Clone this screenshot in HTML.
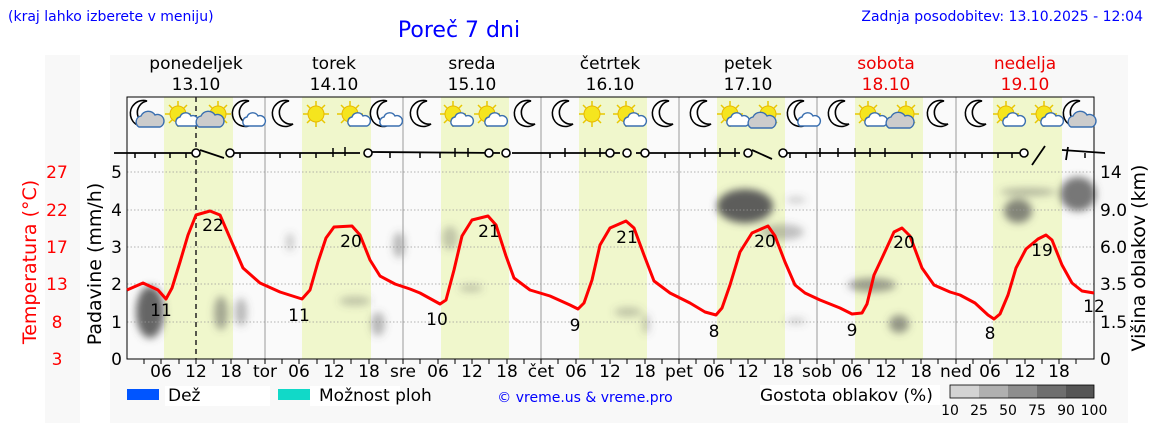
<!DOCTYPE html>
<html><head><meta charset="utf-8"><style>
body{margin:0;background:#fff;width:1152px;height:443px;overflow:hidden;font-family:"Liberation Sans","DejaVu Sans",sans-serif}
</style></head><body>
<svg width="1152" height="443" xmlns="http://www.w3.org/2000/svg" font-family="DejaVu Sans, Liberation Sans, sans-serif">
<defs>
<filter id="bl" x="-20%" y="-20%" width="140%" height="140%"><feGaussianBlur stdDeviation="4"/></filter>
<g id="moon"><path d="M4,-13 A13,13 0 1 0 8,10 A11,11 0 0 1 4,-13 Z" fill="#fff" stroke="#000" stroke-width="1.6"/></g>
<g id="sun"><g stroke="#e8c800" stroke-width="1.5"><line x1="-13" y1="0" x2="13" y2="0"/><line x1="0" y1="-13" x2="0" y2="13"/><line x1="-9" y1="-9" x2="9" y2="9"/><line x1="-9" y1="9" x2="9" y2="-9"/></g><circle r="8" fill="#f5e51e" stroke="#e8b800"/></g>
<g id="cl"><path d="M-8,6 a5,5 0 0 1 2,-9 a6,6 0 0 1 11,-1 a5,5 0 0 1 4,10 z" fill="#fff" stroke="#3a6fb0" stroke-width="1.4"/></g>
<g id="clg"><path d="M-11,8 a6,6 0 0 1 2,-11 a8,8 0 0 1 14,-1 a6,6 0 0 1 5,12 z" fill="#ccc" stroke="#3a6fb0" stroke-width="1.4"/></g>
</defs>
<rect x="45" y="55" width="35" height="368" fill="#f8f8f8"/>
<rect x="110" y="55" width="1018" height="368" fill="#f8f8f8"/>
<rect x="127" y="97" width="967" height="262" fill="#fafafa"/>
<g fill="#f0f7cc">
<rect x="164" y="97" width="69" height="262"/><rect x="302" y="97" width="69" height="262"/><rect x="441" y="97" width="68" height="262"/><rect x="579" y="97" width="68" height="262"/><rect x="717" y="97" width="68" height="262"/><rect x="855" y="97" width="68" height="262"/><rect x="993" y="97" width="69" height="262"/>
</g>
<!-- clouds -->
<g fill="#555" filter="url(#bl)">
<ellipse cx="150" cy="312" rx="14" ry="26" opacity="0.9"/>
<ellipse cx="221" cy="313" rx="7" ry="17" opacity="0.5"/><ellipse cx="241" cy="312" rx="6" ry="14" opacity="0.4"/>
<ellipse cx="290" cy="242" rx="4" ry="9" opacity="0.3"/><ellipse cx="355" cy="301" rx="16" ry="5" opacity="0.3"/>
<ellipse cx="378" cy="324" rx="7" ry="12" opacity="0.4"/><ellipse cx="399" cy="245" rx="6" ry="13" opacity="0.4"/>
<ellipse cx="450" cy="238" rx="8" ry="12" opacity="0.3"/><ellipse cx="471" cy="288" rx="12" ry="4" opacity="0.3"/>
<ellipse cx="628" cy="312" rx="14" ry="5" opacity="0.3"/><ellipse cx="646" cy="324" rx="4" ry="10" opacity="0.3"/>
<ellipse cx="745" cy="206" rx="28" ry="17" opacity="0.95"/><ellipse cx="782" cy="232" rx="22" ry="8" opacity="0.35"/>
<ellipse cx="796" cy="200" rx="10" ry="3" opacity="0.3"/><ellipse cx="796" cy="321" rx="10" ry="3" opacity="0.3"/>
<ellipse cx="872" cy="285" rx="24" ry="7" opacity="0.55"/><ellipse cx="899" cy="324" rx="10" ry="9" opacity="0.6"/>
<ellipse cx="1018" cy="211" rx="14" ry="12" opacity="0.7"/><ellipse cx="1028" cy="192" rx="28" ry="4" opacity="0.4"/>
<ellipse cx="1078" cy="194" rx="18" ry="17" opacity="0.8"/>
</g>
<!-- grid -->
<g stroke="#999" stroke-width="0.8" stroke-dasharray="1.5,2">
<line x1="127" y1="172" x2="1094" y2="172"/><line x1="127" y1="210" x2="1094" y2="210"/><line x1="127" y1="247" x2="1094" y2="247"/><line x1="127" y1="284" x2="1094" y2="284"/><line x1="127" y1="322" x2="1094" y2="322"/>
</g>
<g stroke="#999" stroke-width="1"><line x1="265" y1="97" x2="265" y2="359"/><line x1="403" y1="97" x2="403" y2="359"/><line x1="541" y1="97" x2="541" y2="359"/><line x1="679" y1="97" x2="679" y2="359"/><line x1="817" y1="97" x2="817" y2="359"/><line x1="956" y1="97" x2="956" y2="359"/></g>
<rect x="127" y="97" width="967" height="262" fill="none" stroke="#000" stroke-width="1"/>
<line x1="196" y1="97" x2="196" y2="359" stroke="#222" stroke-width="1.5" stroke-dasharray="5,4"/>
<!-- icons -->
<g transform="translate(0,114)">
<use href="#moon" x="143"/><use href="#clg" x="150" y="5"/>
<use href="#sun" x="178"/><use href="#cl" x="186" y="6"/>
<use href="#sun" x="218"/><use href="#clg" x="210" y="5"/>
<use href="#moon" x="245"/><use href="#cl" x="253" y="6"/>
<use href="#moon" x="285"/>
<use href="#sun" x="316"/><use href="#sun" x="350"/><use href="#cl" x="358" y="6"/>
<use href="#moon" x="383"/><use href="#cl" x="390" y="6"/>
<use href="#moon" x="423"/><use href="#sun" x="453"/><use href="#cl" x="461" y="6"/><use href="#sun" x="487"/><use href="#cl" x="495" y="6"/>
<use href="#moon" x="527"/><use href="#moon" x="565"/><use href="#sun" x="592"/><use href="#sun" x="626"/><use href="#cl" x="634" y="6"/>
<use href="#moon" x="665"/><use href="#moon" x="703"/><use href="#sun" x="730"/><use href="#cl" x="737" y="6"/><use href="#sun" x="768"/><use href="#clg" x="762" y="6"/>
<use href="#moon" x="800"/><use href="#cl" x="808" y="6"/><use href="#moon" x="841"/><use href="#sun" x="868"/><use href="#cl" x="875" y="6"/><use href="#sun" x="906"/><use href="#clg" x="900" y="6"/>
<use href="#moon" x="940"/><use href="#moon" x="978"/><use href="#sun" x="1006"/><use href="#cl" x="1013" y="6"/><use href="#sun" x="1044"/><use href="#cl" x="1051" y="6"/>
<use href="#moon" x="1076"/><use href="#clg" x="1082" y="5"/>
</g>
<!-- wind -->
<g stroke="#000" stroke-width="1.8" fill="none">
<path d="M114,153 L192,153 M200,150 L224,158 M234,153 L360,153 M372,152 L500,153 M512,153 L620,153 M636,153 L740,153 M752,150 L772,159 M786,153 L1022,153 M1062,150 L1105,153"/>
<path d="M1032,165 L1045,146 M1068,147 L1066,160"/>
</g>
<g stroke="#000" stroke-width="1.5">
<path d="M135,153v5 M155,153v5 M170,153v5 M186,153v5 M240,153v5 M280,153v5 M300,153v5 M316,153v5 M333,148v9 M345,147v9 M390,153v5 M420,153v5 M440,153v5 M455,148v9 M468,148v9 M550,153v5 M565,148v9 M585,148v9 M600,148v9 M665,153v5 M690,153v5 M705,148v9 M720,148v9 M735,148v9 M790,153v5 M806,153v5 M820,148v9 M838,148v9 M855,148v9 M870,148v9 M885,148v9 M912,153v5 M930,153v5 M950,153v5 M965,153v5 M982,153v5 M998,153v5 M1012,153v5 M1085,153v5"/>
</g>
<g fill="#fff" stroke="#000" stroke-width="1.6">
<circle cx="196" cy="153" r="4"/><circle cx="230" cy="153" r="4"/><circle cx="368" cy="153" r="4"/><circle cx="489" cy="153" r="4"/><circle cx="506" cy="153" r="4"/><circle cx="610" cy="153" r="4"/><circle cx="627" cy="153" r="4"/><circle cx="645" cy="153" r="4"/><circle cx="748" cy="153" r="4"/><circle cx="783" cy="153" r="4"/><circle cx="1024" cy="153" r="4"/>
</g>
<!-- temperature -->
<polyline fill="none" stroke="#f00" stroke-width="3" stroke-linejoin="round" points="127,290 143,283 158,290 166,299 172,288 180,262 188,235 196,215 210,211 220,215 230,238 243,268 260,283 280,292 302,299 310,290 318,262 326,238 334,227 352,226 360,235 370,260 380,276 395,284 410,289 420,293 440,304 446,300 454,270 462,236 472,220 488,216 496,225 506,256 514,278 530,290 550,296 570,305 578,309 584,303 592,280 600,245 610,228 626,221 634,228 644,255 654,281 670,293 690,303 705,312 716,315 722,308 730,285 740,252 752,233 768,226 775,236 785,262 795,285 805,293 820,300 840,308 852,314 862,313 867,304 874,275 882,258 894,232 902,228 910,236 922,268 934,285 950,292 960,295 975,303 988,315 994,319 1000,314 1008,295 1016,268 1026,249 1038,239 1046,235 1052,240 1062,265 1072,283 1082,291 1094,293"/>
<g font-size="17" fill="#000" text-anchor="middle">
<text x="161" y="316">11</text><text x="213" y="231">22</text><text x="299" y="321">11</text><text x="351" y="247">20</text><text x="437" y="325">10</text><text x="489" y="237">21</text><text x="575" y="331">9</text><text x="627" y="243">21</text><text x="714" y="337">8</text><text x="765" y="247">20</text><text x="852" y="336">9</text><text x="904" y="248">20</text><text x="990" y="339">8</text><text x="1042" y="256">19</text><text x="1094" y="312">12</text>
</g>
<!-- ticks -->
<g stroke="#000" stroke-width="1">
<path d="M144,359v5 M161,359v5 M179,359v5 M196,359v5 M213,359v5 M231,359v5 M248,359v5 M265,359v5 M282,359v5 M299,359v5 M317,359v5 M334,359v5 M351,359v5 M369,359v5 M386,359v5 M403,359v5 M420,359v5 M438,359v5 M455,359v5 M472,359v5 M489,359v5 M507,359v5 M524,359v5 M541,359v5 M558,359v5 M576,359v5 M593,359v5 M610,359v5 M627,359v5 M645,359v5 M662,359v5 M679,359v5 M696,359v5 M714,359v5 M731,359v5 M748,359v5 M765,359v5 M783,359v5 M800,359v5 M817,359v5 M834,359v5 M852,359v5 M869,359v5 M886,359v5 M903,359v5 M921,359v5 M938,359v5 M956,359v5 M973,359v5 M990,359v5 M1007,359v5 M1025,359v5 M1042,359v5 M1059,359v5 M1076,359v5"/>
</g>
<g font-size="17" fill="#000" text-anchor="middle">
<text x="161" y="377">06</text><text x="196" y="377">12</text><text x="231" y="377">18</text><text x="265" y="377">tor</text>
<text x="299" y="377">06</text><text x="334" y="377">12</text><text x="369" y="377">18</text><text x="403" y="377">sre</text>
<text x="438" y="377">06</text><text x="472" y="377">12</text><text x="507" y="377">18</text><text x="541" y="377">čet</text>
<text x="576" y="377">06</text><text x="610" y="377">12</text><text x="645" y="377">18</text><text x="679" y="377">pet</text>
<text x="714" y="377">06</text><text x="748" y="377">12</text><text x="783" y="377">18</text><text x="817" y="377">sob</text>
<text x="852" y="377">06</text><text x="886" y="377">12</text><text x="921" y="377">18</text><text x="956" y="377">ned</text>
<text x="990" y="377">06</text><text x="1025" y="377">12</text><text x="1059" y="377">18</text>
</g>
<g font-size="17" fill="#000" text-anchor="end">
<text x="122" y="365">0</text><text x="122" y="328">1</text><text x="122" y="290">2</text><text x="122" y="253">3</text><text x="122" y="216">4</text><text x="122" y="178">5</text>
</g>
<g font-size="17" fill="#000">
<text x="1100" y="365">0</text><text x="1100" y="328">1.5</text><text x="1100" y="290">3.5</text><text x="1100" y="253">6.0</text><text x="1100" y="216">9.0</text><text x="1100" y="178">14</text>
</g>
<g font-size="17" fill="#f00" text-anchor="middle">
<text x="57" y="365">3</text><text x="57" y="328">8</text><text x="57" y="290">13</text><text x="57" y="253">17</text><text x="57" y="216">22</text><text x="57" y="178">27</text>
</g>
<text transform="translate(36,262) rotate(-90)" font-size="19" fill="#f00" text-anchor="middle">Temperatura (°C)</text>
<text transform="translate(101,264) rotate(-90)" font-size="19" fill="#000" text-anchor="middle">Padavine (mm/h)</text>
<text transform="translate(1145,258) rotate(-90)" font-size="19" fill="#000" text-anchor="middle">Višina oblakov (km)</text>
<g font-size="17" text-anchor="middle">
<text x="196" y="69">ponedeljek</text><text x="196" y="90">13.10</text>
<text x="334" y="69">torek</text><text x="334" y="90">14.10</text>
<text x="472" y="69">sreda</text><text x="472" y="90">15.10</text>
<text x="610" y="69">četrtek</text><text x="610" y="90">16.10</text>
<text x="748" y="69">petek</text><text x="748" y="90">17.10</text>
<text x="886" y="69" fill="#e00">sobota</text><text x="886" y="90" fill="#e00">18.10</text>
<text x="1025" y="69" fill="#e00">nedelja</text><text x="1025" y="90" fill="#e00">19.10</text>
</g>
<text x="8" y="21" font-size="14" fill="#00f">(kraj lahko izberete v meniju)</text>
<text x="459" y="37" font-size="22" fill="#00f" text-anchor="middle">Poreč 7 dni</text>
<text x="1143" y="21" font-size="14" fill="#00f" text-anchor="end">Zadnja posodobitev: 13.10.2025 - 12:04</text>
<!-- legend -->
<rect x="127" y="389" width="32" height="11" fill="#0055ff"/>
<rect x="165" y="386" width="105" height="20" fill="#fff"/>
<text x="168" y="401" font-size="17">Dež</text>
<rect x="278" y="389" width="32" height="11" fill="#11d9c8"/>
<rect x="310" y="386" width="90" height="20" fill="#fff"/>
<text x="319" y="401" font-size="17">Možnost ploh</text>
<text x="585" y="402" font-size="14" fill="#00f" text-anchor="middle">© vreme.us &amp; vreme.pro</text>
<rect x="760" y="385" width="180" height="20" fill="#fff"/>
<text x="760" y="401" font-size="17">Gostota oblakov (%)</text>
<rect x="950" y="385" width="29" height="13" fill="#d3d3d3"/><rect x="979" y="385" width="29" height="13" fill="#b0b0b0"/><rect x="1008" y="385" width="29" height="13" fill="#8e8e8e"/><rect x="1037" y="385" width="29" height="13" fill="#6e6e6e"/><rect x="1066" y="385" width="28" height="13" fill="#555"/>
<rect x="950" y="385" width="144" height="13" fill="none" stroke="#000" stroke-width="0.8"/>
<g font-size="14" text-anchor="middle"><text x="950" y="415">10</text><text x="979" y="415">25</text><text x="1008" y="415">50</text><text x="1037" y="415">75</text><text x="1066" y="415">90</text><text x="1094" y="415">100</text></g>
</svg>
</body></html>
